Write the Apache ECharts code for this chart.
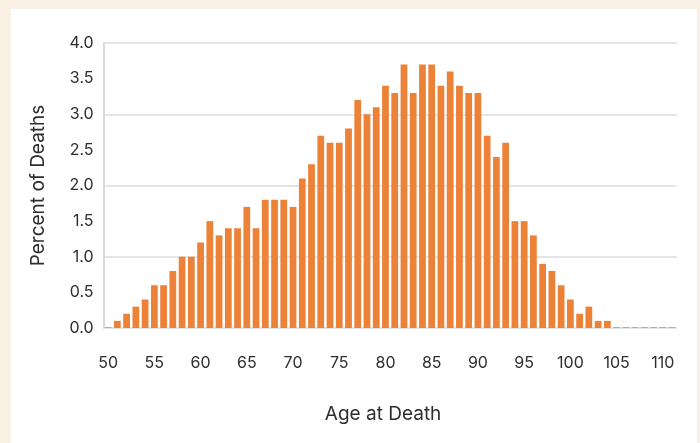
<!DOCTYPE html>
<html>
<head>
<meta charset="utf-8">
<script src="https://cdn.jsdelivr.net/npm/echarts@6/dist/echarts.min.js"></script>
<style>
  html, body { margin: 0; padding: 0; background: #f8f1e3; }
  #chart { width: 700px; height: 443px; }
</style>
</head>
<body>
<div id="chart"></div>
<script>
const ages = [
  '50', '51', '52', '53', '54', '55', '56', '57', '58', '59',
  '60', '61', '62', '63', '64', '65', '66', '67', '68', '69',
  '70', '71', '72', '73', '74', '75', '76', '77', '78', '79',
  '80', '81', '82', '83', '84', '85', '86', '87', '88', '89',
  '90', '91', '92', '93', '94', '95', '96', '97', '98', '99',
  '100', '101', '102', '103', '104', '105', '106', '107', '108', '109',
  '110', '111'
]
const percentOfDeaths = [
  0.01, 0.1, 0.2, 0.3, 0.4, 0.6, 0.6, 0.8, 1.0, 1.0,
  1.2, 1.5, 1.3, 1.4, 1.4, 1.7, 1.4, 1.8, 1.8, 1.8,
  1.7, 2.1, 2.3, 2.7, 2.6, 2.6, 2.8, 3.2, 3.0, 3.1,
  3.4, 3.3, 3.7, 3.3, 3.7, 3.7, 3.4, 3.6, 3.4, 3.3,
  3.3, 2.7, 2.4, 2.6, 1.5, 1.5, 1.3, 0.9, 0.8, 0.6,
  0.4, 0.2, 0.3, 0.1, 0.1, 0.01, 0.01, 0.01, 0.01, 0.01,
  0.01, 0.01
]
const xLabelStep = 5

const chart = echarts.init(document.getElementById('chart'))
const font = 'Inter, sans-serif'
const textColor = '#2e2e2e'

chart.setOption({
  backgroundColor: '#f8f1e3',
  animation: false,
  graphic: [{
    type: 'rect',
    shape: { x: 11, y: 9, width: 686, height: 440 },
    style: { fill: '#ffffff' },
    z: -10
  }],
  grid: { left: 103.5, right: 23.3, top: 43, bottom: 115 },
  xAxis: {
    type: 'category',
    data: ages,
    name: 'Age at Death',
    nameLocation: 'middle',
    nameGap: 77,
    nameTextStyle: { color: textColor, fontSize: 19, fontFamily: font, padding: [0, 14, 0, 0] },
    axisLine: { show: false },
    axisTick: { show: false },
    axisLabel: {
      color: textColor,
      fontSize: 16,
      fontFamily: font,
      margin: 27,
      interval: (i, v) => Number(v) % xLabelStep === 0 && Number(v) <= 110
    }
  },
  yAxis: {
    type: 'value',
    min: 0,
    max: 4,
    interval: 0.5,
    name: 'Percent of Deaths',
    nameLocation: 'middle',
    nameGap: 56,
    nameTextStyle: { color: textColor, fontSize: 19, fontFamily: font },
    axisLine: { show: true, lineStyle: { color: '#dadada', width: 2 } },
    axisTick: { show: false },
    axisLabel: {
      color: textColor,
      fontSize: 16,
      fontFamily: font,
      margin: 10,
      formatter: v => v.toFixed(1)
    },
    splitLine: {
      lineStyle: { color: ['#dcdcdc', 'rgba(0,0,0,0)'], width: 1.5 }
    }
  },
  series: [{
    type: 'bar',
    data: percentOfDeaths,
    barCategoryGap: '27%',
    itemStyle: { color: '#ec8138' }
  }]
})
</script>
</body>
</html>
